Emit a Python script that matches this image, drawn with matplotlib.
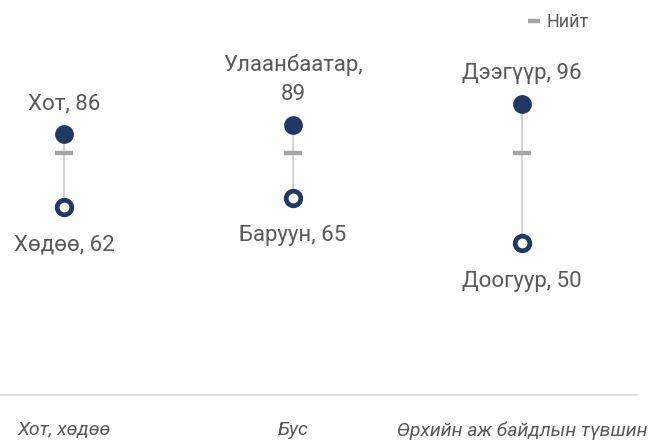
import matplotlib.pyplot as plt

# categories along the bottom
categories = ["Хот, хөдөө", "Бус", "Өрхийн аж байдлын түвшин"]

# upper (filled) points
high_labels = ["Хот", "Улаанбаатар,\n", "Дээгүүр"]
high_values = [86, 89, 96]

# lower (open) points
low_labels = ["Хөдөө", "Баруун", "Доогуур"]
low_values = [62, 65, 50]

# national total
total_values = [80, 80, 80]

NAVY = "#203864"
GRAY_TEXT = "#595959"
TOTAL_GRAY = "#a6a6a6"
STEM_GRAY = "#c8c8c8"

plt.rcParams["font.family"] = ["Roboto", "DejaVu Sans"]

fig = plt.figure(figsize=(6.56, 4.44), dpi=100)
ax = fig.add_axes([0, 1 - 395 / 444, 637 / 656, 395 / 444])

x = list(range(len(categories)))

for i in x:
    ax.plot([i, i], [low_values[i], high_values[i]], color=STEM_GRAY,
            linewidth=1.1, zorder=1)

ax.plot(x, total_values, linestyle="none", marker="_", markersize=13,
        markeredgewidth=3.2, color=TOTAL_GRAY, zorder=2, label="Нийт")
ax.plot(x, high_values, linestyle="none", marker="o", markersize=13.5,
        color=NAVY, markeredgewidth=0, zorder=3)
ax.plot(x, low_values, linestyle="none", marker="o", markersize=10.5,
        markerfacecolor="white", markeredgecolor=NAVY, markeredgewidth=3.4,
        zorder=3)

for i in x:
    sep = "" if high_labels[i].endswith("\n") else ", "
    ax.annotate(f"{high_labels[i]}{sep}{high_values[i]}",
                (i, high_values[i]), xytext=(0, 18), textcoords="offset points",
                ha="center", va="baseline", fontsize=16, color=GRAY_TEXT,
                linespacing=1.55)
    ax.annotate(f"{low_labels[i]}, {low_values[i]}",
                (i, low_values[i]), xytext=(0, -31), textcoords="offset points",
                ha="center", va="baseline", fontsize=16, color=GRAY_TEXT)

ax.set_xlim(-64 / 229, (637 - 64) / 229)
ax.set_ylim(0, 394.7 / 3.028)

ax.set_xticks(x)
ax.set_xticklabels(categories, fontsize=14, style="italic", color=GRAY_TEXT)
ax.tick_params(axis="x", length=0, pad=19)
ax.set_yticks([])
for side in ["top", "right", "left"]:
    ax.spines[side].set_visible(False)
ax.spines["bottom"].set_color("#d9d9d9")
ax.spines["bottom"].set_linewidth(1.2)

leg = ax.legend(loc="center left", bbox_to_anchor=(528 / 656, 1 - 22 / 444),
                bbox_transform=fig.transFigure, frameon=False, fontsize=13,
                handlelength=0.7, handletextpad=0.3, borderpad=0,
                borderaxespad=0, markerscale=0.7)
for t in leg.get_texts():
    t.set_color(GRAY_TEXT)

fig.savefig("out.png", dpi=100)
